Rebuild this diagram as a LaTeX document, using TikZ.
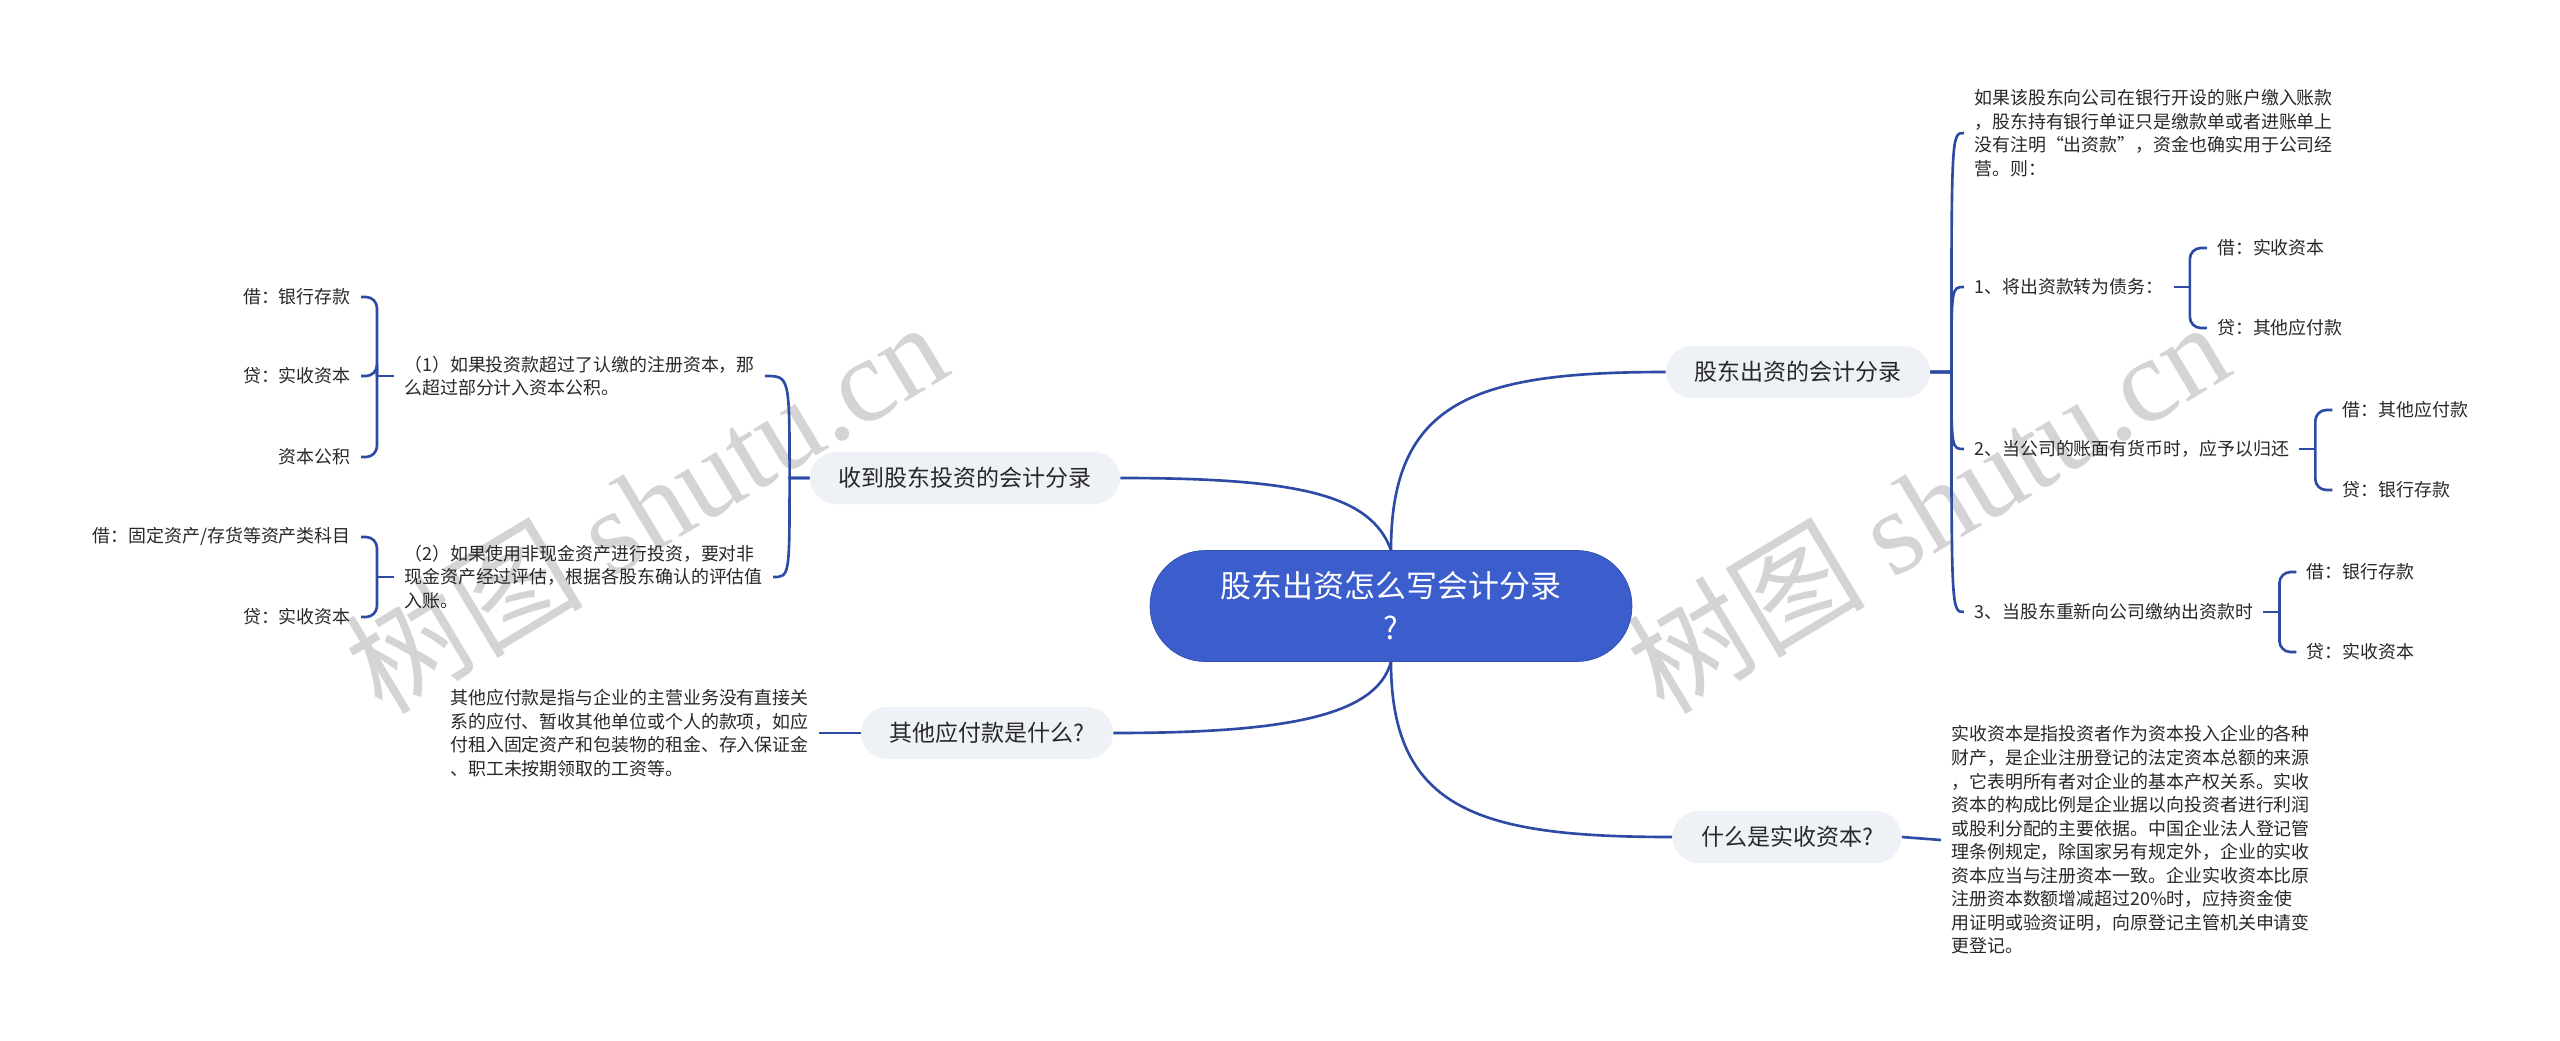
\documentclass[tikz,border=0pt]{standalone}
\usepackage{fontspec}
\setmainfont{Noto Sans CJK SC}
\newfontfamily\wmfont{Liberation Serif}
\usetikzlibrary{calc}
\definecolor{rootblue}{RGB}{59,94,204}
\definecolor{linkblue}{RGB}{45,75,165}
\definecolor{pillgray}{RGB}{238,241,246}
\definecolor{inkgray}{RGB}{40,40,40}
\tikzset{
  rootnode/.style={fill=rootblue, draw=rootblue!85!black, thin, text=white,
    minimum width=9.64cm, minimum height=2.22cm, rounded corners=1.1cm,
    align=center, font=\fontsize{17.6pt}{24pt}\selectfont},
  topic/.style={fill=pillgray, text=inkgray, minimum height=1.04cm,
    inner xsep=0.57cm, rounded corners=0.52cm,
    font=\fontsize{13.1pt}{16pt}\selectfont},
  leaf/.style={text=inkgray, align=left, inner xsep=0.2cm, inner ysep=0.1cm,
    font=\fontsize{10.2pt}{13.4pt}\selectfont},
  link/.style={draw=linkblue, line width=1.5pt},
  brace/.style={link, rounded corners=0.22cm},
  watermark/.style={text=black!17, font=\fontsize{68pt}{70pt}\selectfont}
}
\begin{document}
\begin{tikzpicture}[x=0.02cm, y=-0.02cm]
  \useasboundingbox (0,0) rectangle (2560,1041);
  \fill[white] (0,0) rectangle (2560,1041);
  % Watermarks
  \node[watermark, rotate=31] (wm1) at (645,506) {树图 {\wmfont shutu.cn}};
  \node[watermark, rotate=31] (wm2) at (1927,506) {树图 {\wmfont shutu.cn}};

  % Root
  \node[rootnode] (root) at (1391,606) {股东出资怎么写会计分录\\?};

  % Main topics
  \node[topic] (b1) at (1798,372) {股东出资的会计分录};
  \node[topic] (b2) at (965,478) {收到股东投资的会计分录};
  \node[topic] (b3) at (987,733) {其他应付款是什么?};
  \node[topic] (b4) at (1787,837) {什么是实收资本?};

  \draw[link] (root.north) .. controls +(0,-150) and +(-190,0) .. (b1.west);
  \draw[link] (root.north) .. controls +(-20,-55) and +(180,0) .. (b2.east);
  \draw[link] (root.south) .. controls +(-15,55) and +(170,0) .. (b3.east);
  \draw[link] (root.south) .. controls +(0,150) and +(-190,0) .. (b4.west);

  % Shareholder contribution entries
  \node[leaf, anchor=west] (c1) at (1964,133) {如果该股东向公司在银行开设的账户缴入账款\\，股东持有银行单证只是缴款单或者进账单上\\没有注明“出资款”，资金也确实用于公司经\\营。则：};
  \node[leaf, anchor=west] (c2) at (1964,287) {1、将出资款转为债务：};
  \node[leaf, anchor=west] (c3) at (1964,449) {2、当公司的账面有货币时，应予以归还};
  \node[leaf, anchor=west] (c4) at (1964,612) {3、当股东重新向公司缴纳出资款时};
  \coordinate (j1) at ($(b1.east)+(21,0)$);
  \foreach \c in {c1,c2,c3,c4}
    \draw[link] (b1.east) -- (j1) .. controls (j1 |- \c.west) .. (\c.west);

  \coordinate (k2) at ($(c2.east)+(16,0)$);
  \node[leaf, anchor=west] (g21) at ($(k2)+(17,-39)$) {借：实收资本};
  \node[leaf, anchor=west] (g22) at ($(k2)+(17,41)$) {贷：其他应付款};
  \draw[link] (c2.east) -- (k2);
  \draw[brace] (k2) |- (g21.west);
  \draw[brace] (k2) |- (g22.west);

  \coordinate (k3) at ($(c3.east)+(16,0)$);
  \node[leaf, anchor=west] (g31) at ($(k3)+(17,-39)$) {借：其他应付款};
  \node[leaf, anchor=west] (g32) at ($(k3)+(17,41)$) {贷：银行存款};
  \draw[link] (c3.east) -- (k3);
  \draw[brace] (k3) |- (g31.west);
  \draw[brace] (k3) |- (g32.west);

  \coordinate (k4) at ($(c4.east)+(16,0)$);
  \node[leaf, anchor=west] (g41) at ($(k4)+(17,-40)$) {借：银行存款};
  \node[leaf, anchor=west] (g42) at ($(k4)+(17,40)$) {贷：实收资本};
  \draw[link] (c4.east) -- (k4);
  \draw[brace] (k4) |- (g41.west);
  \draw[brace] (k4) |- (g42.west);

  % Investment received entries
  \node[leaf, anchor=west] (l1) at (394,376) {（1）如果投资款超过了认缴的注册资本，那\\么超过部分计入资本公积。};
  \node[leaf, anchor=west] (l2) at (394,577) {（2）如果使用非现金资产进行投资，要对非\\现金资产经过评估，根据各股东确认的评估值\\入账。};
  \coordinate (jl) at ($(b2.west)+(-20,0)$);
  \foreach \c in {l1,l2}
    \draw[link] (b2.west) -- (jl) .. controls (jl |- \c.east) .. (\c.east);

  \coordinate (kl1) at ($(l1.west)+(-17,0)$);
  \node[leaf, anchor=east] (m11) at ($(kl1)+(-16,-79)$) {借：银行存款};
  \node[leaf, anchor=east] (m12) at ($(kl1)+(-16,0)$) {贷：实收资本};
  \node[leaf, anchor=east] (m13) at ($(kl1)+(-16,81)$) {资本公积};
  \draw[link] (l1.west) -- (kl1);
  \foreach \m in {m11,m12,m13}
    \draw[brace] (kl1) |- (\m.east);

  \coordinate (kl2) at ($(l2.west)+(-17,0)$);
  \node[leaf, anchor=east] (m21) at ($(kl2)+(-16,-40)$) {借：固定资产/存货等资产类科目};
  \node[leaf, anchor=east] (m22) at ($(kl2)+(-16,40)$) {贷：实收资本};
  \draw[link] (l2.west) -- (kl2);
  \draw[brace] (kl2) |- (m21.east);
  \draw[brace] (kl2) |- (m22.east);

  % Definitions
  \node[leaf, anchor=east] (l3) at (819,733) {其他应付款是指与企业的主营业务没有直接关\\系的应付、暂收其他单位或个人的款项，如应\\付租入固定资产和包装物的租金、存入保证金\\、职工未按期领取的工资等。};
  \draw[link] (b3.west) -- (l3.east);

  \node[leaf, anchor=west] (l4) at (1941,840) {实收资本是指投资者作为资本投入企业的各种\\财产，是企业注册登记的法定资本总额的来源\\，它表明所有者对企业的基本产权关系。实收\\资本的构成比例是企业据以向投资者进行利润\\或股利分配的主要依据。中国企业法人登记管\\理条例规定，除国家另有规定外，企业的实收\\资本应当与注册资本一致。企业实收资本比原\\注册资本数额增减超过20\%时，应持资金使\\用证明或验资证明，向原登记主管机关申请变\\更登记。};
  \draw[link] (b4.east) -- (l4.west);
\end{tikzpicture}
\end{document}
